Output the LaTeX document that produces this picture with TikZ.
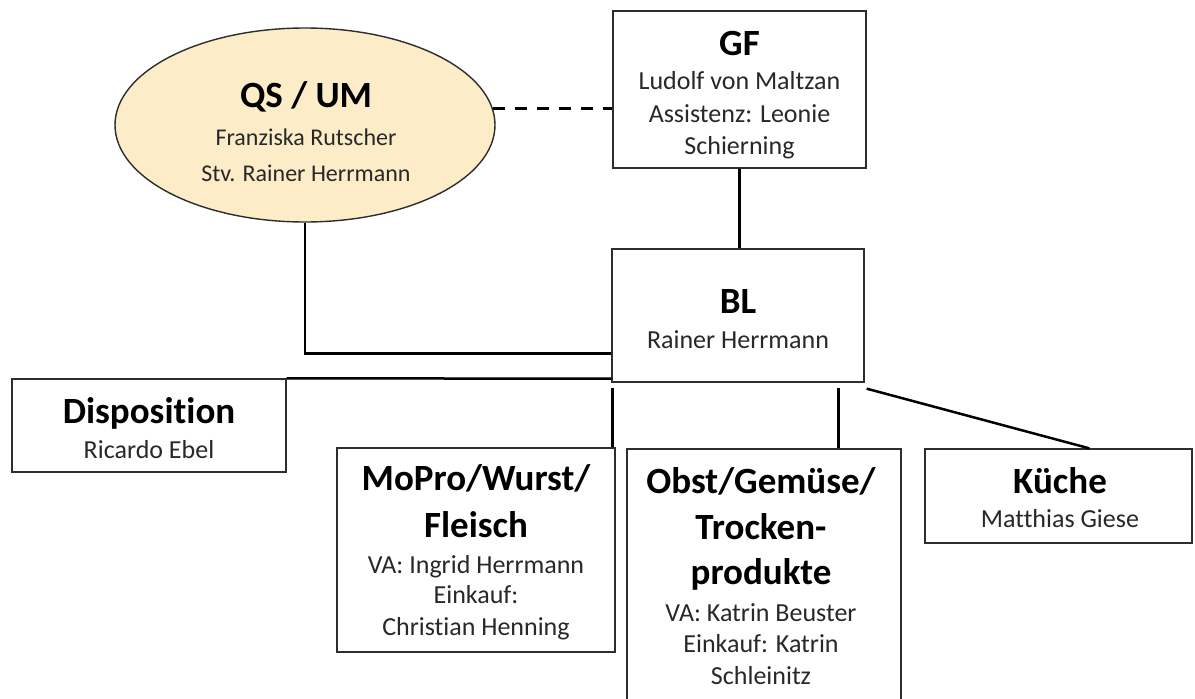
\documentclass[tikz,border=0pt]{standalone}
\usepackage{fontspec}
\setmainfont[Ligatures=NoCommon]{Carlito}
\usetikzlibrary{shapes.geometric,calc}
\definecolor{qsfill}{RGB}{252,236,199}
\definecolor{boxline}{RGB}{45,45,45}
\definecolor{nametext}{RGB}{40,40,40}
\tikzset{
  orgbox/.style={draw=boxline, line width=1.3pt, rectangle, inner sep=0pt, fill=white},
  conn/.style={draw=black, line width=2.5pt},
  ttl/.style={anchor=base, inner sep=0pt, text=black, font=\fontsize{37}{45}\selectfont\bfseries},
  nm/.style={anchor=base, inner sep=0pt, text=nametext, font=\fontsize{26}{32}\selectfont},
  nmsmall/.style={anchor=base, inner sep=0pt, text=nametext, font=\fontsize{24}{30}\selectfont},
}
\begin{document}
\begin{tikzpicture}[x=1pt,y=-1pt]
\useasboundingbox (0,0) rectangle (1195,699);
\fill[white] (0,0) rectangle (1195,699);

% boxes
\node[ellipse, draw=boxline, line width=1.4pt, fill=qsfill, minimum width=380, minimum height=194, inner sep=0pt] (qs) at (305,125) {};
\node[orgbox, minimum width=253, minimum height=157] (gf) at (739.5,89.5) {};
\node[orgbox, minimum width=252, minimum height=133] (bl) at (738,315.5) {};
\node[orgbox, minimum width=274, minimum height=93] (disp) at (149,425.5) {};
\node[orgbox, minimum width=278, minimum height=204] (mopro) at (476,550) {};
\node[orgbox, minimum width=274, minimum height=271] (obst) at (764,584.5) {};
\node[orgbox, minimum width=267, minimum height=94] (kueche) at (1058.5,496) {};

% connectors
\draw[conn, dash pattern=on 12pt off 10pt] (qs.5.5) -- (qs.5.5 -| gf.west);
\draw[conn] (gf.south) -- (gf.south |- bl.north);
\draw[conn] (qs.south) |- ($(bl.south west)+(0,-29)$);
\draw[conn] (disp.north east) -- ($(bl.south west)+(0,-4)$);
\coordinate (mtop) at ($(bl.south west)+(1,5)$);
\draw[conn] (mtop) -- (mtop |- mopro.north);
\coordinate (otop) at ($(bl.south west)+(227,5)$);
\draw[conn] (otop) -- (otop |- obst.north);
\coordinate (ktop) at ($(bl.south east)+(2,6)$);
\coordinate (kbot) at ($(kueche.north west)+(165,0)$);
\draw[conn] (ktop) -- (kbot);

% texts
\node[ttl] (qs-t) at (306,107) {QS / UM};
\node[nmsmall] (qs-1) at (306,145) {Franziska Rutscher};
\node[nmsmall] (qs-2) at (306,181) {Stv. Rainer Herrmann};

\node[ttl] (gf-t) at (739.5,55) {GF};
\node[nm] (gf-1) at (739.5,89) {Ludolf von Maltzan};
\node[nm] (gf-2) at (739.5,122) {Assistenz: Leonie};
\node[nm] (gf-3) at (739.5,154) {Schierning};

\node[ttl] (bl-t) at (738,313) {BL};
\node[nm] (bl-1) at (738,348) {Rainer Herrmann};

\node[ttl] (disp-t) at (149,423) {Disposition};
\node[nm] (disp-1) at (149,458) {Ricardo Ebel};

\node[ttl] (mopro-t1) at (476,490) {MoPro/Wurst/};
\node[ttl] (mopro-t2) at (476,537) {Fleisch};
\node[nm] (mopro-1) at (476,573) {VA: Ingrid Herrmann};
\node[nm] (mopro-2) at (476,603) {Einkauf:};
\node[nm] (mopro-3) at (476,635) {Christian Henning};

\node[ttl] (obst-t1) at (761,493) {Obst/Gemüse/};
\node[ttl] (obst-t2) at (761,539) {Trocken-};
\node[ttl] (obst-t3) at (761,584) {produkte};
\node[nm] (obst-1) at (761,621) {VA: Katrin Beuster};
\node[nm] (obst-2) at (761,652) {Einkauf: Katrin};
\node[nm] (obst-3) at (761,684) {Schleinitz};

\node[ttl] (kueche-t) at (1060,493) {Küche};
\node[nm] (kueche-1) at (1060,527) {Matthias Giese};
\end{tikzpicture}
\end{document}
